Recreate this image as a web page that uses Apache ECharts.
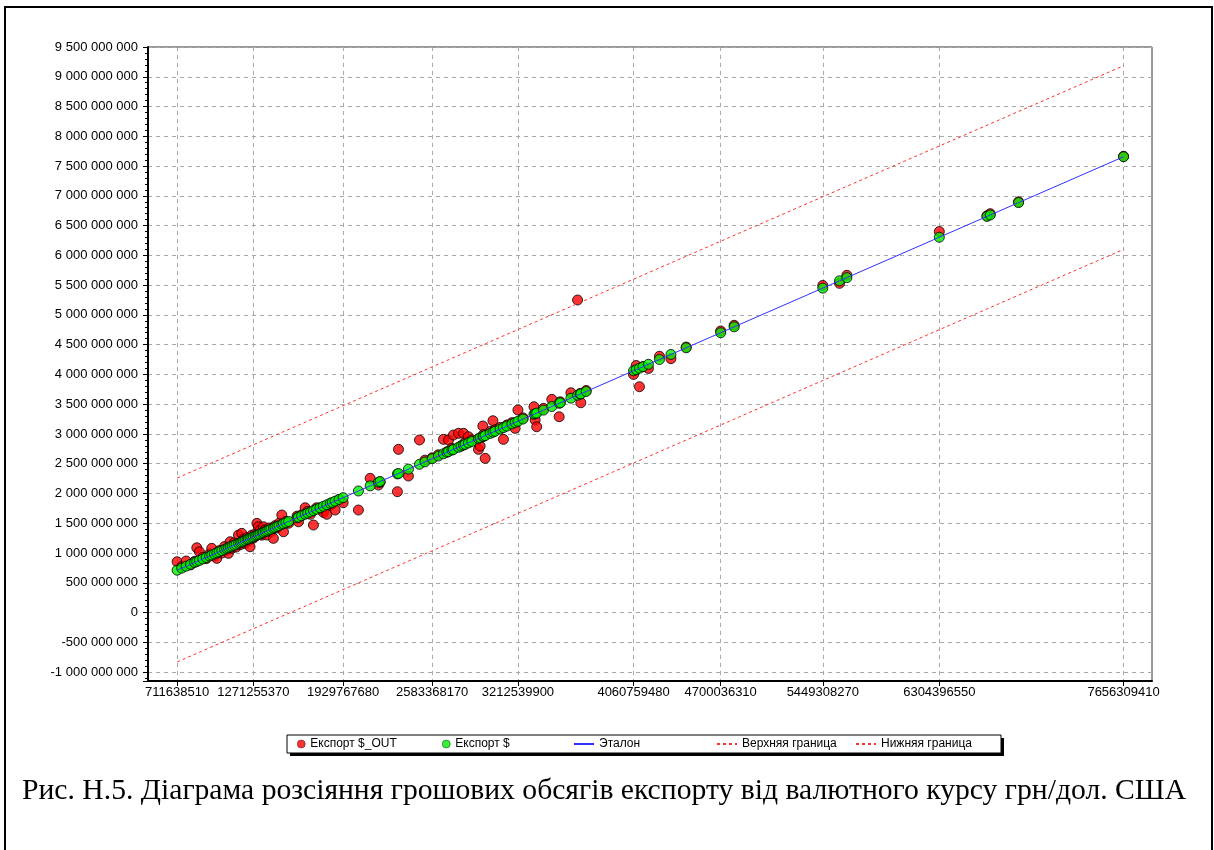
<!DOCTYPE html>
<html>
<head>
<meta charset="utf-8">
<script src="https://cdn.jsdelivr.net/npm/echarts@6/dist/echarts.min.js"></script>
<style>
  html, body { margin: 0; padding: 0; background: #fff; }
  #chart { width: 1214px; height: 850px; }
</style>
</head>
<body>
<div id="chart"></div>
<script>
// Export volumes, millions of USD
const exportActual = [
  711.63851, 745, 778, 810, 840, 856, 875, 900, 925, 950, 966, 985, 1003, 1020, 1040, 1060, 1075,
  1088, 1101, 1115, 1130, 1145, 1162, 1175, 1186, 1198, 1211, 1225, 1235, 1247, 1260, 1271.25537,
  1285, 1297, 1308, 1320, 1335, 1345, 1358, 1370, 1385, 1400, 1418, 1430, 1445, 1460, 1480, 1492,
  1510, 1530, 1592, 1602, 1625, 1651, 1670, 1690, 1712, 1735, 1760, 1785, 1810, 1835, 1850, 1871,
  1900, 1929.76768, 2042, 2128, 2189, 2201, 2328, 2336, 2409, 2490, 2530, 2583.36817, 2629, 2666,
  2691, 2703, 2728, 2739, 2776, 2795, 2813, 2825, 2849, 2874, 2923, 2935, 2955, 2960, 2972, 3009,
  3029, 3045, 3082, 3106, 3131, 3168, 3192, 3212.5399, 3250, 3330, 3339, 3350, 3400, 3461, 3515,
  3523, 3601, 3650, 3669, 3674, 3713, 4060.75948, 4080, 4104, 4130, 4170, 4251, 4335, 4447,
  4700.03631, 4799, 5449.30827, 5572, 5626, 6304.39655, 6654, 6678, 6886, 7656.30941
];
const exportModel = [
  853, 770, 865, 800, 860, 1088, 1021, 930, 905, 985, 1078, 950, 910, 1040, 1000, 1110, 1050,
  994, 1189, 1080, 1170, 1100, 1302, 1140, 1330, 1230, 1162, 1260, 1200, 1105, 1300, 1250,
  1320, 1498, 1441, 1380, 1300, 1441, 1390, 1302, 1420, 1360, 1246, 1460, 1420, 1500, 1638, 1357,
  1530, 1500, 1620, 1525, 1640, 1760, 1700, 1650, 1470, 1760, 1740, 1683, 1650, 1800, 1830, 1722,
  1900, 1844, 1722, 2254, 2142, 2190, 2030, 2741, 2293, 2898, 2560, 2600, 2650, 2909,
  2700, 2898, 2760, 2982, 3010, 2800, 3010, 2860, 2953, 2900, 2741, 2797, 3133, 2990, 2590, 3040,
  3222, 3070, 3110, 2909, 3150, 3190, 3094, 3402, 3270, 3457, 3234, 3121, 3430, 3581, 3289,
  3540, 3692, 5250, 3680, 3524, 3730, 4000, 4150, 3793, 4130, 4100, 4305, 4265, 4460,
  4730, 4825, 5495, 5530, 5665, 6400, 6665, 6700, 6900, 7665
];

// Tolerance band ends, millions of USD
const bandX = [711.63851, 7656.30941];
const upperBand = [2260, 9185];
const lowerBand = [-830, 6100];

// Tick positions on the horizontal axis
const xTicks = [711638510, 1271255370, 1929767680, 2583368170, 3212539900,
                4060759480, 4700036310, 5449308270, 6304396550, 7656309410];

const MLN = 1e6;
const caption = 'Рис. Н.5. Діаграма розсіяння грошових обсягів експорту від валютного курсу грн/дол. США';

const outPoints = exportActual.map((x, i) => [x * MLN, exportModel[i] * MLN]);
const actPoints = exportActual.map(x => [x * MLN, x * MLN]);
const refLine = exportActual.map(x => [x * MLN, x * MLN]);
const upperLine = bandX.map((x, i) => [x * MLN, upperBand[i] * MLN]);
const lowerLine = bandX.map((x, i) => [x * MLN, lowerBand[i] * MLN]);

const FONT = '"Liberation Sans", Arial, sans-serif';
const groupDigits = v => Math.round(v).toString().replace(/\B(?=(\d{3})+(?!\d))/g, ' ');
const gridLine = { show: true, lineStyle: { color: '#a8a8a8', width: 1, type: [4, 4] } };

const RED = '#ff0000';
const GREEN = '#00f000';
const BLUE = '#3030ff';
const BAND = '#ff3030';

const chart = echarts.init(document.getElementById('chart'), null, { renderer: 'canvas' });

// one legend block per entry so each sits at its own place in the strip
const legendItem = (name, left, w, hideSymbol) => ({
  data: [name], left: left, top: 738, orient: 'horizontal',
  itemWidth: w, itemHeight: 8, itemGap: 0, padding: 0,
  itemStyle: hideSymbol ? { opacity: 0 } : { borderWidth: 0.5 },
  textStyle: { fontFamily: FONT, fontSize: 12, color: '#000' },
  selectedMode: false, z: 10
});

chart.setOption({
  animation: false,
  backgroundColor: '#fff',
  grid: { left: 148, top: 47, right: 62, bottom: 169, show: true, borderColor: '#333', borderWidth: 1, backgroundColor: 'transparent' },
  xAxis: {
    type: 'value', min: 498e6, max: 7865e6,
    axisLine: { onZero: false, lineStyle: { color: '#000', width: 2 } },
    axisTick: { show: true, customValues: xTicks, length: 5, lineStyle: { color: '#000' } },
    axisLabel: { customValues: xTicks, formatter: v => String(Math.round(v)), fontFamily: FONT, fontSize: 13, color: '#000', margin: 5 },
    splitLine: gridLine
  },
  yAxis: {
    type: 'value', min: -1.15e9, max: 9.5e9, splitNumber: 21,
    axisLine: { show: true, onZero: false, lineStyle: { color: '#000', width: 2 } },
    axisTick: { show: true, length: 5, lineStyle: { color: '#000' } },
    minorTick: { show: true, splitNumber: 5, length: 3, lineStyle: { color: '#000' } },
    axisLabel: { showMinLabel: false, formatter: groupDigits, fontFamily: FONT, fontSize: 13, color: '#000', margin: 10 },
    splitLine: gridLine
  },
  legend: [
    legendItem('Експорт $_OUT', 297, 8, false),
    legendItem('Експорт $', 442, 8, false),
    legendItem('Эталон', 573, 20, true),
    legendItem('Верхняя граница', 716, 20, true),
    legendItem('Нижняя граница', 855, 20, true)
  ],
  graphic: [
    { type: 'rect', z: -10, shape: { x: 5, y: 7, width: 1207, height: 860 }, style: { fill: 'none', stroke: '#000', lineWidth: 2 } },
    { type: 'rect', z: 1, shape: { x: 290, y: 738, width: 714, height: 18 }, style: { fill: '#000' } },
    { type: 'rect', z: 2, shape: { x: 287, y: 735, width: 714, height: 18 }, style: { fill: '#fff', stroke: '#000', lineWidth: 1 } },
    { type: 'text', z: 5, left: 22, top: 776, scaleX: 0.988, style: { text: caption, font: '30px "Liberation Serif", "Times New Roman", serif', fill: '#000' } }
  ],
  series: [
    { name: 'Експорт $_OUT', type: 'scatter', data: outPoints, symbol: 'circle', symbolSize: 10, z: 3,
      itemStyle: { color: RED, borderColor: '#000', borderWidth: 1 } },
    { name: 'Експорт $', type: 'scatter', data: actPoints, symbol: 'circle', symbolSize: 10, z: 4,
      itemStyle: { color: GREEN, borderColor: '#000', borderWidth: 1 } },
    { name: 'Эталон', type: 'line', data: refLine, symbol: 'none', z: 5,
      itemStyle: { color: BLUE }, lineStyle: { color: BLUE, width: 1 } },
    { name: 'Верхняя граница', type: 'line', data: upperLine, symbol: 'none', z: 5,
      itemStyle: { color: BAND }, lineStyle: { color: BAND, width: 1, type: [3, 3] } },
    { name: 'Нижняя граница', type: 'line', data: lowerLine, symbol: 'none', z: 5,
      itemStyle: { color: BAND }, lineStyle: { color: BAND, width: 1, type: [3, 3] } }
  ]
});
</script>
</body>
</html>
